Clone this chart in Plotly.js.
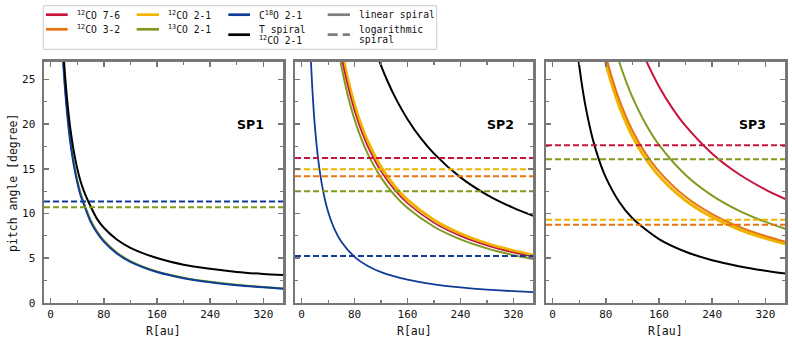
<!DOCTYPE html>
<html>
<head>
<meta charset="utf-8">
<script src="https://cdn.plot.ly/plotly-3.0.1.min.js"></script>
<style>html,body{margin:0;padding:0;background:#fff;}#chart{width:792px;height:343px;}</style>
</head>
<body>
<div id="chart"></div>
<script>
// ---------------- DATA ----------------
const X_RANGE = [-10, 350];
const Y_RANGE = [0, 27];

// Panel SP1
const sp1_R = [14,16,18,20,22,25,28,30,35,40,45,50,60,70,80,100,120,160,200,240,280,320,350];
const sp1_C18O = [34.4,30.96,28.07,25.64,23.58,21.0,18.92,17.74,15.34,13.5,12.04,11.0,9.09,7.81,6.84,5.48,4.57,3.43,2.75,2.29,1.96,1.72,1.57];
const sp1_13CO = [34.99,31.49,28.57,26.1,24.0,21.4,19.29,18.09,15.64,13.77,12.29,11.2,9.28,7.97,6.98,5.6,4.67,3.5,2.8,2.34,2.0,1.75,1.6];
const sp1_T = [36.0,32.5,29.6,27.2,25.13,22.55,20.47,19.3,16.89,15.05,13.6,12.5,10.8,9.36,8.4,7.05,6.15,5.0,4.25,3.8,3.45,3.22,3.1];
const sp1_log_C18O = 11.33;
const sp1_log_13CO = 10.7;

// Panel SP2
const sp2_R = [55,60,65,70,80,90,100,120,140,160,200,240,280,320,350];
const sp2_12CO76 = [29.8,27.7,25.85,24.23,21.49,19.29,17.49,14.71,12.68,11.14,8.95,7.48,6.42,5.62,5.14];
const sp2_12CO21 = [30.66,28.52,26.63,24.97,22.17,19.91,18.06,15.2,13.11,11.52,9.26,7.74,6.64,5.82,5.32];
const sp2_13CO = [28.6,26.55,24.75,23.17,20.52,18.41,16.67,14.01,12.07,10.6,8.51,7.1,6.09,5.33,4.88];
const sp2_T_R = [100,110,120,130,140,160,180,200,240,280,320,350];
const sp2_T = [30.96,28.61,26.57,24.78,23.2,20.56,18.43,16.7,14.04,12.09,10.62,9.73];
const sp2_C18O_R = [10,12,14,16,18,20,25,30,35,40,50,60,80,100,120,160,200,240,280,320,350];
const sp2_C18O = [35.75,30.96,27.2,24.23,21.8,19.8,16.07,13.5,11.62,10.2,8.19,6.84,5.14,4.12,3.43,2.58,2.06,1.72,1.47,1.29,1.18];
const sp2_log_12CO76 = 16.2;
const sp2_log_12CO21 = 14.96;
const sp2_log_12CO32 = 14.17;
const sp2_log_13CO = 12.49;
const sp2_log_C18O = 5.22;

// Panel SP3
const sp3_T_R = [30,35,40,45,50,60,70,80,100,120,160,200,240,280,320,350];
const sp3_T = [33.69,29.74,26.57,23.96,21.8,18.43,15.95,14.04,11.31,9.46,7.13,5.71,4.76,4.09,3.58,3.27];
const sp3_CO_R = [70,75,80,90,100,120,140,160,200,240,280,320,350];
const sp3_12CO32 = [30.96,29.25,27.69,25.02,22.78,19.29,16.7,14.71,11.86,9.93,8.53,7.48,6.84];
const sp3_12CO21 = [30.05,28.37,26.85,24.23,22.05,18.65,16.13,14.2,11.45,9.58,8.23,7.21,6.6];
const sp3_13CO_R = [85,90,100,110,120,140,160,200,240,280,320,350];
const sp3_13CO = [30.96,29.54,27.02,24.88,23.03,20.02,17.68,14.31,12.0,10.32,9.06,8.29];
const sp3_12CO76_R = [120,130,140,160,180,200,240,280,320,350];
const sp3_12CO76 = [30.96,28.98,27.22,24.23,21.8,19.8,16.7,14.42,12.68,11.62];
const sp3_log_12CO76 = 17.64;
const sp3_log_13CO = 16.07;
const sp3_log_12CO21 = 9.28;
const sp3_log_12CO32 = 8.73;

const panelLabels = ['SP1','SP2','SP3'];
const xTitle = 'R[au]';
const yTitle = 'pitch angle [degree]';

// ---------------- STYLE ----------------
const C = {
  co76: '#c8143c', co32: '#e8730f', co21: '#f0b400', c13: '#7f9a1f',
  c18: '#0f3c96', T: '#000000', gray: '#7f7f7f'
};
const FRAME = '#777777';
const W = 792, H = 343;
const px = v => v / W;
const py = v => 1 - v / H;

function solid(xa, ya, R, V, color, width) {
  return {type:'scatter', mode:'lines', x:R, y:V, xaxis:xa, yaxis:ya,
    line:{color:color, width:width, shape:'spline', smoothing:0.8}, hoverinfo:'skip', showlegend:false};
}
function dashed(xa, ya, level, color) {
  return {type:'scatter', mode:'lines', x:X_RANGE, y:[level, level], xaxis:xa, yaxis:ya,
    line:{color:color, width:2, dash:'6px,3px'}, hoverinfo:'skip', showlegend:false};
}

const traces = [
  // SP1
  solid('x','y', sp1_R, sp1_13CO, C.c13, 2),
  solid('x','y', sp1_R, sp1_C18O, C.c18, 2),
  solid('x','y', sp1_R, sp1_T, C.T, 2),
  dashed('x','y', sp1_log_C18O, C.c18),
  dashed('x','y', sp1_log_13CO, C.c13),
  // SP2
  solid('x2','y2', sp2_R, sp2_12CO21, C.co21, 3),
  solid('x2','y2', sp2_R, sp2_13CO, C.c13, 2),
  solid('x2','y2', sp2_R, sp2_12CO76, C.co76, 1.6),
  solid('x2','y2', sp2_T_R, sp2_T, C.T, 2),
  solid('x2','y2', sp2_C18O_R, sp2_C18O, C.c18, 1.8),
  dashed('x2','y2', sp2_log_12CO76, C.co76),
  dashed('x2','y2', sp2_log_12CO21, C.co21),
  dashed('x2','y2', sp2_log_12CO32, C.co32),
  dashed('x2','y2', sp2_log_13CO, C.c13),
  dashed('x2','y2', sp2_log_C18O, C.c18),
  // SP3
  solid('x3','y3', sp3_CO_R, sp3_12CO21, C.co21, 3),
  solid('x3','y3', sp3_CO_R, sp3_12CO32, C.co32, 2),
  solid('x3','y3', sp3_13CO_R, sp3_13CO, C.c13, 2),
  solid('x3','y3', sp3_12CO76_R, sp3_12CO76, C.co76, 2),
  solid('x3','y3', sp3_T_R, sp3_T, C.T, 2),
  dashed('x3','y3', sp3_log_12CO76, C.co76),
  dashed('x3','y3', sp3_log_13CO, C.c13),
  dashed('x3','y3', sp3_log_12CO21, C.co21),
  dashed('x3','y3', sp3_log_12CO32, C.co32)
];

const tickFont = {family:'DejaVu Sans Mono', size:11, color:'#111'};
function xAxis(domain, anchor) {
  return {domain:domain, anchor:anchor, range:X_RANGE, tick0:0, dtick:80,
    ticks:'inside', ticklen:5, tickwidth:1.5, tickcolor:FRAME,
    showline:true, linecolor:FRAME, linewidth:2.5, mirror:'allticks',
    showgrid:false, zeroline:false, tickfont:tickFont, automargin:false,
    minor:{tick0:0, dtick:40, ticks:'inside', ticklen:3, tickwidth:1.2, tickcolor:FRAME, showgrid:false}};
}
function yAxis(anchor, labels) {
  return {domain:[py(302.7), py(61.7)], anchor:anchor, range:Y_RANGE, tick0:0, dtick:5,
    ticks:'inside', ticklen:5, tickwidth:1.5, tickcolor:FRAME,
    showline:true, linecolor:FRAME, linewidth:2.5, mirror:'allticks',
    showgrid:false, zeroline:false, tickfont:tickFont, showticklabels:labels, automargin:false,
    ticklabelstandoff:4,
    minor:{tick0:0, dtick:2.5, ticks:'inside', ticklen:3, tickwidth:1.2, tickcolor:FRAME, showgrid:false}};
}

const dom1 = [px(44), px(283.3)], dom2 = [px(295), px(533.3)], dom3 = [px(546), px(785.3)];

const annotations = [];
// panel labels
[['x','y'],['x2','y2'],['x3','y3']].forEach((a,i) => {
  annotations.push({xref:a[0], yref:a[1], x:300, y:20, text:'<b>'+panelLabels[i]+'</b>', showarrow:false,
    font:{family:'DejaVu Sans', size:12.5, color:'#000'}, xanchor:'center', yanchor:'middle'});
});
// axis titles
const titleFont = {family:'DejaVu Sans Mono', size:11.5, color:'#111'};
[dom1, dom2, dom3].forEach(d => {
  annotations.push({xref:'paper', yref:'paper', x:(d[0]+d[1])/2, y:py(331), text:xTitle, showarrow:false,
    font:titleFont, xanchor:'center', yanchor:'middle'});
});
annotations.push({xref:'paper', yref:'paper', x:px(13), y:py(183), text:yTitle, textangle:-90, showarrow:false,
  font:titleFont, xanchor:'center', yanchor:'middle'});

// legend (drawn manually)
const legFont = {family:'DejaVu Sans Mono', size:9.7, color:'#111'};
const legendText = [
  [75, 14.7, '<sup>12</sup>CO 7-6'], [75, 29.3, '<sup>12</sup>CO 3-2'],
  [166, 14.7, '<sup>12</sup>CO 2-1'], [166, 29.3, '<sup>13</sup>CO 2-1'],
  [256.7, 14.7, 'C<sup>18</sup>O 2-1'], [256.7, 29.3, 'T spiral'], [256.7, 40, '<sup>12</sup>CO 2-1'],
  [356.7, 14.7, 'linear spiral'], [356.7, 29.3, 'logarithmic'], [356.7, 40, 'spiral']
];
legendText.forEach(t => {
  annotations.push({xref:'paper', yref:'paper', x:px(t[0]), y:py(t[1]), text:t[2], showarrow:false,
    font:legFont, xanchor:'left', yanchor:'middle'});
});
const legendSw = [
  [46, 67.7, 14.7, C.co76, 'solid'], [46, 67.7, 29.3, C.co32, 'solid'],
  [136.7, 159, 14.7, C.co21, 'solid'], [136.7, 159, 29.3, C.c13, 'solid'],
  [228.3, 250, 14.7, C.c18, 'solid'], [228.3, 250, 34.7, C.T, 'solid'],
  [327.7, 350, 14.7, C.gray, 'solid'], [327.7, 350, 34.7, C.gray, '10px,5px']
];
const shapes = [
  {type:'rect', xref:'paper', yref:'paper', x0:px(43.3), x1:px(436.7), y0:py(49.3), y1:py(5.7),
   line:{color:'#cccccc', width:1}, fillcolor:'#ffffff', layer:'above'}
];
legendSw.forEach(s => {
  shapes.push({type:'line', xref:'paper', yref:'paper', x0:px(s[0]), x1:px(s[1]), y0:py(s[2]), y1:py(s[2]),
    line:{color:s[3], width:2.7, dash:s[4]}, layer:'above'});
});

const layout = {
  width:W, height:H, margin:{l:0, r:0, t:0, b:0}, showlegend:false,
  paper_bgcolor:'#fff', plot_bgcolor:'#fff',
  xaxis: xAxis(dom1, 'y'), yaxis: yAxis('x', true),
  xaxis2: xAxis(dom2, 'y2'), yaxis2: yAxis('x2', false),
  xaxis3: xAxis(dom3, 'y3'), yaxis3: yAxis('x3', false),
  annotations: annotations, shapes: shapes
};

Plotly.newPlot('chart', traces, layout, {staticPlot:true, displayModeBar:false});
</script>
</body>
</html>
